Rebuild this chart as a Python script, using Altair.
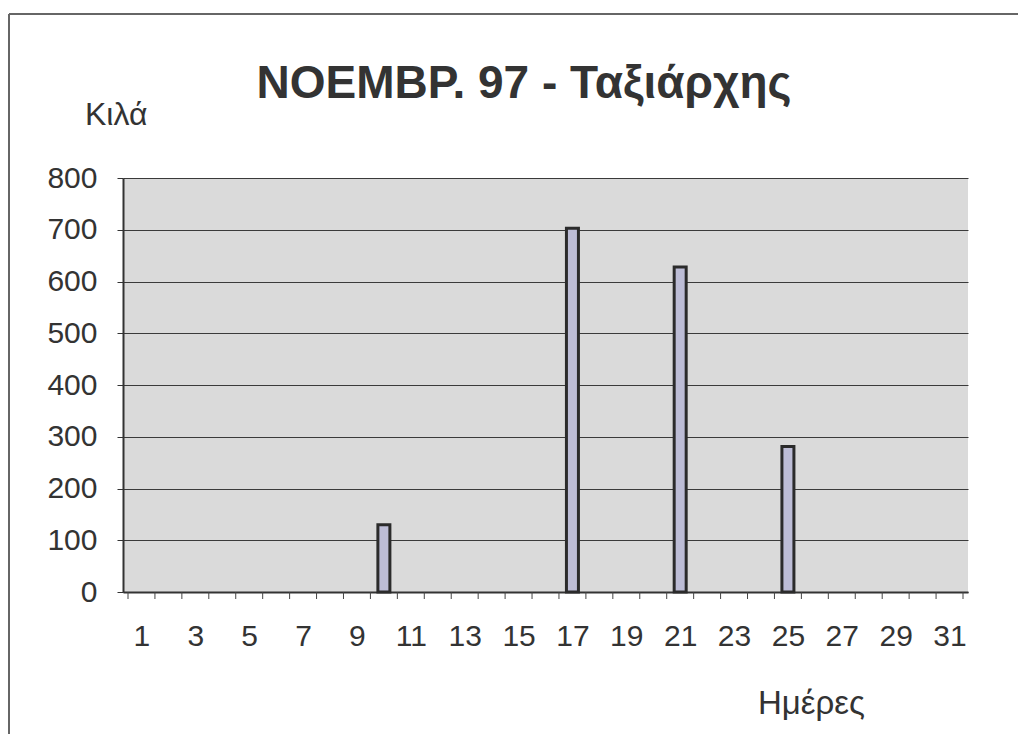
import altair as alt
import pandas as pd

days = list(range(1, 32))
kilos = [0, 0, 0, 0, 0, 0, 0, 0, 0, 130, 0, 0, 0, 0, 0, 0, 703, 0, 0, 0,
         628, 0, 0, 0, 281, 0, 0, 0, 0, 0, 0]
x_labels = list(range(1, 32, 2))
y_ticks = list(range(0, 801, 100))
tick_bounds = [d - 0.5 for d in days] + [31.5]

title_text = "NOEMBP. 97 - Ταξιάρχης"
y_title = "Κιλά"
x_title = "Ημέρες"

FONT = "Liberation Sans"
TXT = "#333333"

df = pd.DataFrame({"day": days, "kg": kilos})
bounds = pd.DataFrame({"b": tick_bounds})
one = pd.DataFrame({"k": [0]})

W, H = 845, 414

xscale = alt.Scale(domain=[0.5, 31.5], nice=False, zero=False)
yscale = alt.Scale(domain=[0, 800], nice=False)

bars = alt.Chart(df).transform_filter("datum.kg > 0").mark_bar(
    size=12, fill="#bdbdd6", stroke="#2b2b2b", strokeWidth=3
).encode(
    x=alt.X("day:Q", scale=xscale, title=None,
            axis=alt.Axis(values=x_labels, tickSize=0, grid=False,
                          labelFontSize=30, labelFont=FONT, labelColor=TXT,
                          labelPadding=29, domainColor="#333333", domainWidth=2,
                          labelFlush=False)),
    y=alt.Y("kg:Q", scale=yscale, title=None,
            axis=alt.Axis(values=y_ticks, tickSize=6, tickColor="#333333",
                          grid=True, gridColor="#3a3a3a", gridWidth=1,
                          labelFontSize=30, labelFont=FONT, labelColor=TXT,
                          labelPadding=20, domainColor="#333333", domainWidth=2,
                          labelFlush=False)),
)

xticks = alt.Chart(bounds).mark_rule(color="#444444", strokeWidth=1).encode(
    x=alt.X("b:Q", scale=xscale),
    y=alt.value(H), y2=alt.value(H + 7),
)

title = alt.Chart(one).mark_text(
    text=title_text, font=FONT, fontSize=46, fontWeight="bold",
    color=TXT, align="center", baseline="alphabetic"
).encode(x=alt.value(401), y=alt.value(-80))

ylab = alt.Chart(one).mark_text(
    text=y_title, font=FONT, fontSize=32, color=TXT,
    align="left", baseline="alphabetic"
).encode(x=alt.value(-38), y=alt.value(-53))

xlab = alt.Chart(one).mark_text(
    text=x_title, font=FONT, fontSize=33, color=TXT,
    align="left", baseline="alphabetic"
).encode(x=alt.value(635), y=alt.value(536))

frame_top = alt.Chart(one).mark_rule(color="#666666", strokeWidth=2).encode(
    x=alt.value(-114), x2=alt.value(900), y=alt.value(-164)
)
frame_left = alt.Chart(one).mark_rule(color="#666666", strokeWidth=2).encode(
    x=alt.value(-114), y=alt.value(-164), y2=alt.value(560)
)

chart = alt.layer(bars, xticks, title, ylab, xlab, frame_top, frame_left).properties(
    width=W, height=H,
    autosize=alt.AutoSizeParams(type="none"),
    padding={"left": 115, "top": 170, "right": 50, "bottom": 142},
    background="white",
).configure_view(fill="#dadada", stroke=None)

chart.save("out.html", embed_options={"renderer": "svg", "actions": False})
